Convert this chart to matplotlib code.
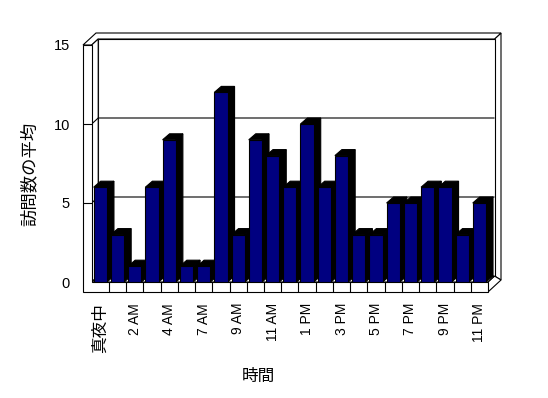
import matplotlib
matplotlib.use('Agg')
import matplotlib.pyplot as plt
import numpy as np
from matplotlib.patches import Polygon

plt.rcParams['font.family'] = ['Liberation Sans', 'Noto Sans CJK JP', 'DejaVu Sans']

# ---- data ----
hours = ['真夜中', '1 AM', '2 AM', '3 AM', '4 AM', '5 AM', '7 AM', '8 AM', '9 AM',
         '10 AM', '11 AM', '12 PM', '1 PM', '2 PM', '3 PM', '4 PM', '5 PM',
         '6 PM', '7 PM', '8 PM', '9 PM', '10 PM', '11 PM']
visits = [6, 3, 1, 6, 9, 1, 1, 12, 3, 9, 8, 6, 10, 6, 8, 3, 3, 5, 5, 6, 6, 3, 5]
y_ticks = [0, 5, 10, 15]
x_label = '時間'
y_label = '訪問数の平均'

# ---- layout (pixels) ----
W, H = 548, 398
fig = plt.figure(figsize=(W / 100, H / 100), dpi=100)
FL, FR, FB, FT = 91.7, 488.0, 282.0, 45.0
ax = fig.add_axes([FL / W, 1 - FB / H, (FR - FL) / W, (FB - FT) / H])
n = len(hours)
ymax = y_ticks[-1]
ax.set_xlim(-0.5, n - 0.5)
ax.set_ylim(0, ymax)
UX = (FR - FL) / n
UY = (FB - FT) / ymax

wdx, wdy = 6.5 / UX, 6.0 / UY
bdx, bdy = 7.0 / UX, 6.0 / UY
xl, xr = -0.5, n - 0.5
xo = xl - 8.7 / UX
yb = -10.0 / UY
y1 = ymax
lw = 0.8


def poly(pts, fc='white', z=1.0):
    ax.add_patch(Polygon(pts, closed=True, facecolor=fc, edgecolor='black',
                         linewidth=lw, clip_on=False, zorder=z, joinstyle='miter'))


def line(xs, ys, z=1.5):
    ax.plot(xs, ys, color='black', lw=lw, zorder=z, clip_on=False,
            solid_capstyle='butt')


# back wall right face & floor right face
poly([(xr + wdx, y1 + wdy), (xr + 2 * wdx, y1 + 2 * wdy),
      (xr + 2 * wdx, yb + 2 * wdy), (xr + wdx, wdy)])
poly([(xr, 0), (xr + wdx, wdy), (xr + 2 * wdx, yb + 2 * wdy), (xr, yb)])
# back wall inner face
poly([(xl + wdx, wdy), (xl + wdx, y1 + wdy), (xr + wdx, y1 + wdy), (xr + wdx, wdy)])
# top of walls
poly([(xo, y1), (xo + 2 * wdx, y1 + 2 * wdy), (xr + 2 * wdx, y1 + 2 * wdy),
      (xr + wdx, y1 + wdy), (xl + wdx, y1 + wdy), (xl, y1)])
# left wall inner face
poly([(xl, 0), (xl, y1), (xl + wdx, y1 + wdy), (xl + wdx, wdy)])
# gridlines
for v in y_ticks[1:-1]:
    line([xl, xl + wdx, xr + wdx], [v, v + wdy, v + wdy])
# floor top face
poly([(xl, 0), (xl + wdx, wdy), (xr + wdx, wdy), (xr, 0)], z=1.6)
# front faces of left wall and floor
poly([(xo, y1), (xl, y1), (xl, 0), (xr, 0), (xr, yb), (xo, yb)], z=1.6)
for v in y_ticks[1:-1]:
    line([xo, xl], [v, v], z=1.7)
for k in range(1, n):
    line([k - 0.5, k - 0.5], [0, yb], z=1.7)

# ---- bars ----
x = np.arange(n)
bw = 0.77
for xi, v in zip(x, visits):
    l, r = xi - bw / 2, xi + bw / 2
    poly([(r, 0), (r + bdx, bdy), (r + bdx, v + bdy), (r, v)], fc='black', z=3)
    poly([(l, v), (l + bdx, v + bdy), (r + bdx, v + bdy), (r, v)], fc='black', z=3)
ax.bar(x, visits, width=bw, color='#000080', edgecolor='black', linewidth=lw, zorder=4)

# ---- axes styling ----
ax.patch.set_visible(False)
for s in ax.spines.values():
    s.set_visible(False)
ax.set_yticks(y_ticks)
ax.set_yticklabels([str(t) for t in y_ticks], fontsize=10.5)
ax.set_xticks(x[::2])
xt = ax.set_xticklabels(hours[::2], rotation=90, fontsize=10, va='top', ha='center')
xt[0].set_fontsize(12)
ax.tick_params(axis='y', length=0, pad=15.6)
ax.tick_params(axis='x', length=0, pad=15.1)

fig.text(258 / W, 1 - 376 / H, x_label, ha='center', va='center', fontsize=12)
fig.text(29 / W, 1 - 174 / H, y_label, ha='center', va='center', rotation=90, fontsize=12.5)

fig.savefig('out.png', dpi=100)
